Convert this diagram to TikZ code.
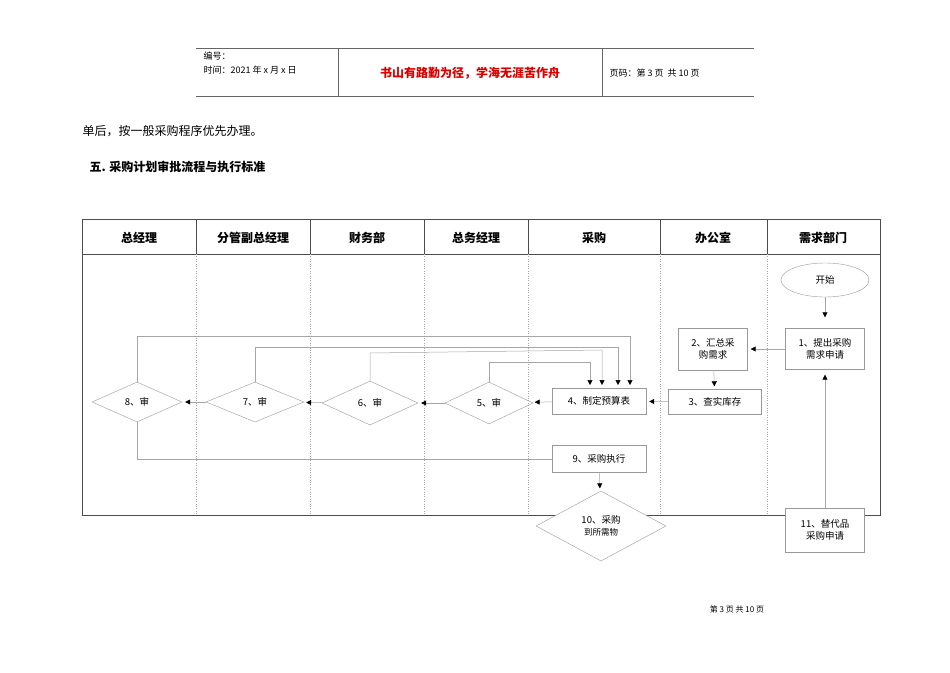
\documentclass[tikz,border=0pt]{standalone}
\usepackage{fontspec}
\setmainfont{Noto Sans CJK SC}
\usetikzlibrary{shapes.geometric,arrows.meta}
\tikzset{
 box/.style={draw=black!40,rectangle,minimum width=#1,inner sep=0pt,font=\fontsize{9.5}{12}\selectfont,align=center},
 dia/.style={draw=black!40,diamond,aspect=1,inner sep=0pt,font=\fontsize{9.5}{12}\selectfont,align=center},
 con/.style={draw=black!35,line width=0.5pt},
 arr/.style={con,-{Triangle[length=5pt,width=5pt,fill=black,color=black]},shorten >=3pt},
 hd/.style={font=\bfseries\fontsize{12}{14}\selectfont},
}
\begin{document}
\begin{tikzpicture}[x=1pt,y=-1pt]
\useasboundingbox (0,0) rectangle (950,672);
% header
\draw[black!60] (196,48) -- (754,48) (196,96) -- (754,96) (338,48) -- (338,96) (602,48) -- (602,96);
\node[anchor=west,font=\fontsize{9}{10}\selectfont] (h1) at (200,56) {编号：};
\node[anchor=west,font=\fontsize{9}{10}\selectfont] (h2) at (200,70) {时间：2021 年 x 月 x 日};
\node[font=\bfseries\fontsize{12}{13}\selectfont,text=red!85!black] (h3) at (470,73) {书山有路勤为径，学海无涯苦作舟};
\node[anchor=west,font=\fontsize{9}{10}\selectfont] (h4) at (606,73) {页码：第 3 页\ \ 共 10 页};
\node[anchor=west,font=\fontsize{12}{13}\selectfont] (t1) at (79,131) {单后，按一般采购程序优先办理。};
\node[anchor=west,font=\bfseries\fontsize{12}{13}\selectfont] (t2) at (86,167) {五. 采购计划审批流程与执行标准};
% table
\draw[black!70] (82,219) rectangle (880,515);
\draw[black!70] (82,254) -- (880,254);
\foreach \x in {196,310,424,528,660,767}{
 \draw[black!70] (\x,219) -- (\x,254);
 \draw[black!35,dotted] (\x,254) -- (\x,515);}
\node[hd] (c1) at (139,238) {总经理};
\node[hd] (c2) at (253,238) {分管副总经理};
\node[hd] (c3) at (367,238) {财务部};
\node[hd] (c4) at (476,238) {总务经理};
\node[hd] (c5) at (594,238) {采购};
\node[hd] (c6) at (713,238) {办公室};
\node[hd] (c7) at (823,238) {需求部门};
% nodes
\node[draw=black!40,ellipse,minimum width=88,minimum height=34,font=\fontsize{9.5}{11}\selectfont,fill=white] (s) at (825,280) {开始};
\node[box=79,minimum height=41] (n1) at (825,349) {1、提出采购\\需求申请};
\node[box=69,minimum height=42] (n2) at (713,349) {2、汇总采\\购需求};
\node[box=93,minimum height=25] (n3) at (715,402) {3、查实库存};
\node[box=94,minimum height=26] (n4) at (599,401) {4、制定预算表};
\node[dia,minimum width=88,minimum height=42] (d5) at (489,403) {5、审};
\node[dia,minimum width=96,minimum height=44] (d6) at (370,403) {6、审};
\node[dia,minimum width=98,minimum height=40] (d7) at (255,402) {7、审};
\node[dia,minimum width=90,minimum height=40] (d8) at (137,402) {8、审};
\node[box=94,minimum height=27] (n9) at (599,459) {9、采购执行};
\node[dia,minimum width=130,minimum height=70,fill=white] (d10) at (601,526) {10、采购\\\fontsize{8.5}{10}\selectfont 到所需物};
\node[box=79,minimum height=44,fill=white] (n11) at (825,530) {11、替代品\\采购申请};
% connectors
\draw[arr,shorten >=11pt] (s) -- (n1);
\draw[arr] (n1) -- (n2);
\draw[arr] (n2) -- (n3);
\draw[arr] (n3) -- (n4);
\draw[arr] (n4) -- (d5);
\draw[arr] (d5) -- (d6);
\draw[arr] (d6) -- (d7);
\draw[arr] (d7) -- (d8);
\draw[arr] (d5.north) -- (489,362) -- (590,362) -- (590,388);
\draw[arr] (d6.north) -- (370,353) -- (602,350) -- (602,388);
\draw[arr] (d7.north) -- (255,347) -- (618,347) -- (618,388);
\draw[arr] (d8.north) -- (137,336) -- (630,336) -- (630,388);
\draw[con] (d8.south) -- (137,459) -- (n9.west);
\draw[arr] (n9) -- (d10);
\draw[arr,shorten >=5pt] (n11) -- (n1);
\node[font=\fontsize{8}{9}\selectfont] (ft) at (737,609) {第 3 页 共 10 页};
\end{tikzpicture}
\end{document}
